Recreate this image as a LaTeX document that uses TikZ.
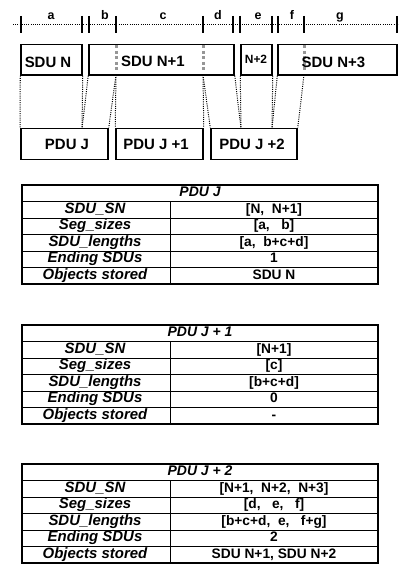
\documentclass[tikz,border=0pt]{standalone}
\usepackage{fontspec}
\setmainfont{Liberation Sans}
\definecolor{dashgray}{RGB}{150,150,150}
\tikzset{
  box/.style={draw, line width=1.5bp, inner sep=0pt},
  lbl/.style={inner sep=0pt, font=\fontsize{15}{18}\selectfont\bfseries, text height=0.72em, text depth=0pt},
  smalllbl/.style={inner sep=0pt, font=\fontsize{12}{14}\selectfont\bfseries, text height=0.72em, text depth=0pt},
  rulelbl/.style={inner sep=0pt, anchor=base, font=\fontsize{12.5}{14}\selectfont\bfseries},
  conn/.style={line width=1bp, dash pattern=on 1bp off 1.2bp},
  tick/.style={line width=1.4bp},
  cutline/.style={line width=3bp, color=dashgray, dash pattern=on 3bp off 2.5bp},
  touter/.style={line width=1.5bp},
  tinner/.style={line width=1bp},
  ttitle/.style={inner sep=0pt, font=\fontsize{14}{16}\selectfont\bfseries\itshape, text height=0.72em, text depth=0pt},
  tkey/.style={inner sep=0pt, font=\fontsize{15}{18}\selectfont\bfseries\itshape, text height=0.72em, text depth=0pt},
  tval/.style={inner sep=0pt, font=\fontsize{13.8}{16}\selectfont\bfseries, text height=0.72em, text depth=0pt},
}
% #1 name prefix, #2 top y, #3 title, #4-#8 values ; row height 16.5
\newcommand\pdutab[8]{%
  \foreach \k in {1,...,5} {\draw[tinner] (22,#2+16.5*\k) -- (378,#2+16.5*\k);}
  \draw[tinner] (170,#2+16.5) -- (170,#2+99);
  \draw[touter] (22,#2) rectangle (378,#2+99);
  \node[ttitle] (#1t) at (200,#2+8.25) {#3};
  \node[tkey] (#1k1) at (95,#2+24.75) {SDU\_SN};
  \node[tkey] (#1k2) at (95,#2+41.25) {Seg\_sizes};
  \node[tkey] (#1k3) at (95,#2+57.75) {SDU\_lengths};
  \node[tkey] (#1k4) at (95,#2+74.25) {Ending SDUs};
  \node[tkey] (#1k5) at (95,#2+90.75) {Objects stored};
  \node[tval] (#1v1) at (274,#2+24.75) {#4};
  \node[tval] (#1v2) at (274,#2+41.25) {#5};
  \node[tval] (#1v3) at (274,#2+57.75) {#6};
  \node[tval] (#1v4) at (274,#2+74.25) {#7};
  \node[tval] (#1v5) at (274,#2+90.75) {#8};
}
\begin{document}
\begin{tikzpicture}[x=1bp,y=-1bp]
\useasboundingbox (0,0) rectangle (403,575);

% ruler
\coordinate (r0) at (13,25);
\coordinate (r1) at (398,25);
\draw[conn] (r0) -- (r1);
\foreach \x in {21,82,89,116,203,233,240,272,278,304,397}
  \draw[tick] (\x,16) -- (\x,33);
\node[rulelbl] (la) at (51,19.5) {a};
\node[rulelbl] (lb) at (105,19.5) {b};
\node[rulelbl] (lc) at (163,19.5) {c};
\node[rulelbl] (ld) at (218,19.5) {d};
\node[rulelbl] (le) at (258,19.5) {e};
\node[rulelbl] (lf) at (292,19.5) {f};
\node[rulelbl] (lg) at (340,19.5) {g};

% SDU boxes
\node[box, minimum width=61bp, minimum height=30.5bp] (sduN) at (51.5,59.75) {};
\node[box, minimum width=145bp, minimum height=30.5bp] (sduN1) at (161.5,59.75) {};
\node[box, minimum width=31bp, minimum height=30.5bp] (sduN2) at (256.5,59.75) {};
\node[box, minimum width=119bp, minimum height=30.5bp] (sduN3) at (337.5,59.75) {};

% cut points
\coordinate (cut1) at (116,75);
\coordinate (cut2) at (203,75);
\coordinate (cut3) at (304,75);
\draw[cutline] (116,45.5) -- (116,72);
\draw[cutline] (203,45.5) -- (203,72);
\draw[cutline] (304,45.5) -- (304,72);

\node[lbl] (sduNl) at (48,63.5) {SDU N};
\node[lbl] (sduN1l) at (153,63) {SDU N+1};
\node[smalllbl] (sduN2l) at (256,60) {N+2};
\node[lbl] (sduN3l) at (333.5,64) {SDU N+3};

% PDU boxes
\node[box, minimum width=87bp, minimum height=31bp] (pduJ) at (64.5,143.8) {};
\node[box, minimum width=87bp, minimum height=31bp] (pduJ1) at (159.5,143.8) {};
\node[box, minimum width=86bp, minimum height=31bp] (pduJ2) at (254,143.8) {};
\node[lbl] (pduJl) at (67,146) {PDU J};
\node[lbl] (pduJ1l) at (156,146) {PDU J +1};
\node[lbl] (pduJ2l) at (252,146) {PDU J +2};

\coordinate (jb) at (82,128.3);
\coordinate (j2d) at (241,128.3);
\coordinate (j2e) at (272,128.3);

% connectors
\draw[conn] (sduN.south west) -- (pduJ.north west);
\draw[conn] (sduN.south east) -- (jb);
\draw[conn] (sduN1.south west) -- (jb);
\draw[conn] (cut1) -- (pduJ.north east);
\draw[conn] (cut1) -- (pduJ1.north west);
\draw[conn] (cut2) -- (pduJ1.north east);
\draw[conn] (cut2) -- (pduJ2.north west);
\draw[conn] (sduN1.south east) -- (j2d);
\draw[conn] (sduN2.south west) -- (j2d);
\draw[conn] (sduN2.south east) -- (j2e);
\draw[conn] (sduN3.south west) -- (j2e);
\draw[conn] (cut3) -- (pduJ2.north east);

% tables
\pdutab{ta}{185}{PDU J}{[N,\ \ N+1]}{[a,\ \ \ b]}{[a,\ \ b+c+d]}{1}{SDU N}
\pdutab{tb}{325}{PDU J + 1}{[N+1]}{[c]}{[b+c+d]}{0}{-}
\pdutab{tc}{464}{PDU J + 2}{[N+1,\ \ N+2,\ \ N+3]}{[d,\ \ \ e,\ \ \ f]}{[b+c+d,\ \ e,\ \ \ f+g]}{2}{SDU N+1, SDU N+2}
\end{tikzpicture}
\end{document}
